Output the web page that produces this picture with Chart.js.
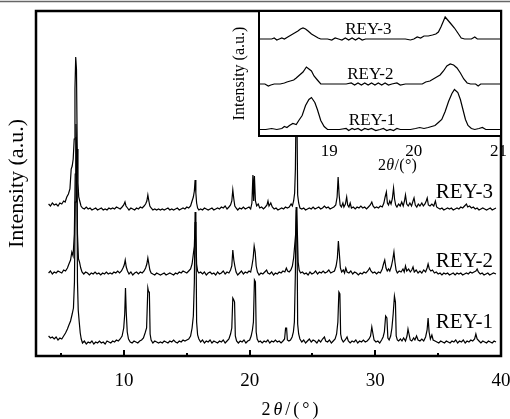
<!DOCTYPE html>
<html><head><meta charset="utf-8">
<script src="https://cdn.jsdelivr.net/npm/chart.js@4.4.0/dist/chart.umd.min.js"></script>
<style>
html,body{margin:0;padding:0;background:#fff;}
#wrap{position:relative;width:510px;height:419px;overflow:hidden;background:#fff;}
#main{position:absolute;left:0;top:0;}
#inset{position:absolute;left:225px;top:0;}
</style></head><body>
<div id="wrap"><canvas id="main" width="510" height="419"></canvas><canvas id="inset" width="285" height="180"></canvas></div>
<script>
// ---------------- DATA ----------------
const seriesNames = ['REY-1', 'REY-2', 'REY-3'];
const mainTickValues = [5, 10, 15, 20, 25, 30, 35, 40];
const mainTickLabels = ['', '10', '', '20', '', '30', '', '40'];
const insetTickValues = [19, 20, 21];
const insetTickLabels = ['19', '20', '21'];
const mainOffsets = [14, 82, 147];
const insetOffsets = [6.5, 52, 97];

// [2theta, intensity (a.u.)]
const rey1 = [[4.0,6],[4.15,4],[4.3,5],[4.45,3],[4.6,5],[4.75,2],[4.9,4],[5.05,3],[5.2,6],[5.35,9],[5.5,13],[5.62,17],[5.75,21],[5.88,28],[5.98,34],[6.06,60],[6.12,140],[6.18,205],[6.24,190],[6.3,60],[6.36,32],[6.44,20],[6.52,9],[6.6,3],[6.7,-1],[6.85,1],[7.0,-2],[7.15,0],[7.3,-1],[7.45,1],[7.6,-2],[7.75,0],[7.9,-1],[8.05,1],[8.2,-1],[8.35,0],[8.5,-2],[8.65,1],[8.8,0],[8.95,-1],[9.1,1],[9.25,0],[9.4,2],[9.55,1],[9.7,3],[9.85,6],[9.98,14],[10.06,28],[10.12,54],[10.18,30],[10.26,10],[10.36,3],[10.5,0],[10.65,-1],[10.8,1],[10.95,0],[11.1,-1],[11.25,1],[11.4,2],[11.55,4],[11.68,9],[11.8,14],[11.9,54],[11.96,50],[12.02,50],[12.08,8],[12.16,2],[12.3,-1],[12.45,1],[12.6,0],[12.75,-1],[12.9,0],[13.05,-1],[13.2,1],[13.35,0],[13.5,-1],[13.65,1],[13.8,0],[13.95,2],[14.1,0],[14.25,-1],[14.4,1],[14.55,0],[14.7,2],[14.85,1],[15.0,2],[15.15,3],[15.3,6],[15.42,14],[15.52,26],[15.6,60],[15.66,130],[15.72,125],[15.78,20],[15.86,7],[15.96,3],[16.1,0],[16.25,2],[16.4,-1],[16.55,1],[16.7,0],[16.85,2],[17.0,-1],[17.15,1],[17.3,0],[17.45,-1],[17.6,1],[17.75,0],[17.9,2],[18.05,-1],[18.2,1],[18.35,3],[18.48,8],[18.58,14],[18.66,44],[18.74,42],[18.8,40],[18.86,6],[18.96,1],[19.1,-1],[19.25,1],[19.4,0],[19.55,2],[19.7,-1],[19.85,1],[20.0,2],[20.12,6],[20.22,12],[20.3,20],[20.38,62],[20.46,60],[20.52,10],[20.6,3],[20.72,0],[20.85,1],[21.0,-1],[21.15,1],[21.3,0],[21.45,2],[21.6,-1],[21.75,1],[21.9,0],[22.05,2],[22.2,0],[22.35,1],[22.5,-1],[22.65,1],[22.78,3],[22.86,14],[22.94,14],[23.0,2],[23.12,1],[23.25,2],[23.38,5],[23.48,10],[23.56,20],[23.64,70],[23.7,135],[23.76,128],[23.82,18],[23.9,8],[24.0,3],[24.15,0],[24.3,2],[24.45,-1],[24.6,1],[24.75,3],[24.9,0],[25.05,2],[25.2,1],[25.35,-1],[25.5,2],[25.65,0],[25.8,3],[25.95,5],[26.05,1],[26.2,0],[26.35,2],[26.5,-1],[26.65,1],[26.8,3],[26.92,8],[27.02,20],[27.1,50],[27.18,48],[27.24,8],[27.32,3],[27.45,0],[27.6,2],[27.75,5],[27.85,1],[28.0,-1],[28.15,1],[28.3,0],[28.45,2],[28.6,-1],[28.75,1],[28.9,0],[29.05,2],[29.2,0],[29.35,1],[29.5,3],[29.62,6],[29.72,15],[29.8,9],[29.9,2],[30.05,0],[30.2,1],[30.35,-1],[30.5,2],[30.62,5],[30.72,10],[30.82,26],[30.92,24],[31.0,4],[31.1,2],[31.22,6],[31.32,14],[31.42,28],[31.52,46],[31.6,40],[31.66,6],[31.75,2],[31.85,1],[32.0,3],[32.12,1],[32.25,4],[32.4,1],[32.52,6],[32.6,13],[32.68,8],[32.78,2],[32.9,1],[33.05,4],[33.15,2],[33.28,6],[33.4,2],[33.55,1],[33.7,3],[33.85,1],[34.0,5],[34.12,12],[34.2,24],[34.28,10],[34.38,3],[34.5,7],[34.6,2],[34.75,1],[34.9,0],[35.05,-1],[35.2,1],[35.35,0],[35.5,-1],[35.65,1],[35.8,0],[35.95,-1],[36.1,1],[36.25,0],[36.4,2],[36.55,-1],[36.7,1],[36.85,0],[37.0,2],[37.15,-1],[37.3,1],[37.45,0],[37.6,2],[37.75,1],[37.9,3],[38.0,8],[38.1,3],[38.25,1],[38.4,-1],[38.55,1],[38.7,0],[38.85,-1],[39.0,1],[39.15,0],[39.3,-1],[39.45,1],[39.6,0]];

const rey2 = [[4.0,1],[4.15,3],[4.3,0],[4.45,2],[4.6,1],[4.75,3],[4.9,2],[5.05,1],[5.2,4],[5.35,3],[5.5,6],[5.62,10],[5.75,14],[5.85,22],[5.95,18],[6.05,40],[6.12,100],[6.18,150],[6.24,120],[6.3,40],[6.38,15],[6.46,12],[6.56,6],[6.66,2],[6.8,0],[6.95,2],[7.1,1],[7.25,-1],[7.4,1],[7.55,0],[7.7,2],[7.85,0],[8.0,1],[8.15,-1],[8.3,1],[8.45,0],[8.6,2],[8.75,0],[8.9,1],[9.05,0],[9.2,2],[9.35,1],[9.5,3],[9.65,1],[9.8,3],[9.92,6],[10.02,9],[10.1,14],[10.18,7],[10.28,3],[10.4,0],[10.55,2],[10.7,-1],[10.85,1],[11.0,2],[11.15,0],[11.3,2],[11.45,1],[11.6,3],[11.72,6],[11.82,10],[11.9,16],[11.98,10],[12.06,4],[12.16,1],[12.3,0],[12.45,-1],[12.6,1],[12.75,0],[12.9,-1],[13.05,0],[13.2,1],[13.35,-1],[13.5,0],[13.65,1],[13.8,0],[13.95,-1],[14.1,1],[14.25,0],[14.4,2],[14.55,1],[14.7,3],[14.85,2],[15.0,1],[15.15,3],[15.3,5],[15.42,10],[15.52,20],[15.6,28],[15.66,52],[15.72,40],[15.78,10],[15.86,3],[15.96,1],[16.1,2],[16.25,0],[16.4,2],[16.55,-1],[16.7,1],[16.85,2],[17.0,0],[17.15,1],[17.3,-1],[17.45,2],[17.6,0],[17.75,1],[17.9,3],[18.05,0],[18.2,2],[18.35,1],[18.48,4],[18.58,8],[18.66,24],[18.74,14],[18.82,8],[18.92,2],[19.05,-1],[19.2,1],[19.35,3],[19.5,0],[19.65,2],[19.8,1],[19.95,3],[20.08,2],[20.18,8],[20.28,16],[20.36,28],[20.44,22],[20.52,8],[20.62,2],[20.75,-1],[20.9,1],[21.05,0],[21.2,2],[21.35,4],[21.45,1],[21.6,0],[21.75,2],[21.9,-1],[22.05,1],[22.2,0],[22.35,2],[22.5,1],[22.65,3],[22.8,2],[22.92,6],[23.02,3],[23.15,2],[23.28,4],[23.4,8],[23.5,16],[23.58,28],[23.66,40],[23.72,64],[23.8,40],[23.86,12],[23.94,4],[24.05,1],[24.2,2],[24.35,0],[24.5,1],[24.65,-1],[24.8,2],[24.95,0],[25.1,1],[25.25,3],[25.4,0],[25.55,2],[25.7,1],[25.85,3],[26.0,1],[26.15,2],[26.3,4],[26.45,1],[26.6,2],[26.75,3],[26.88,8],[26.98,16],[27.06,33],[27.14,20],[27.22,6],[27.32,2],[27.45,4],[27.55,1],[27.65,6],[27.75,2],[27.9,1],[28.05,3],[28.2,0],[28.35,2],[28.5,1],[28.65,-1],[28.8,1],[28.95,0],[29.1,2],[29.25,1],[29.4,3],[29.55,6],[29.65,3],[29.8,1],[29.95,2],[30.1,0],[30.25,2],[30.4,1],[30.55,5],[30.65,10],[30.75,14],[30.85,6],[30.95,3],[31.05,5],[31.15,3],[31.28,8],[31.38,14],[31.48,22],[31.56,12],[31.65,4],[31.75,1],[31.9,3],[32.05,2],[32.2,5],[32.3,2],[32.4,8],[32.5,3],[32.65,5],[32.78,2],[32.9,4],[33.0,7],[33.1,2],[33.25,4],[33.4,1],[33.55,3],[33.7,1],[33.85,4],[34.0,2],[34.12,6],[34.2,10],[34.3,5],[34.42,3],[34.55,4],[34.7,1],[34.85,2],[35.0,0],[35.15,1],[35.3,-1],[35.45,1],[35.6,0],[35.75,1],[35.9,-1],[36.05,0],[36.2,1],[36.35,-1],[36.5,1],[36.65,0],[36.8,1],[36.95,-1],[37.1,0],[37.25,1],[37.4,0],[37.55,2],[37.7,1],[37.85,2],[38.0,3],[38.1,5],[38.2,2],[38.35,0],[38.5,1],[38.65,-1],[38.8,0],[38.95,1],[39.1,-1],[39.25,0],[39.4,1],[39.6,0]];

const rey3 = [[4.0,5],[4.15,3],[4.3,6],[4.45,4],[4.6,5],[4.75,3],[4.9,6],[5.05,5],[5.2,8],[5.32,7],[5.45,12],[5.58,15],[5.7,20],[5.8,40],[5.88,43],[5.96,50],[6.04,70],[6.1,120],[6.16,152],[6.22,140],[6.28,60],[6.34,26],[6.4,12],[6.48,8],[6.58,3],[6.7,1],[6.85,0],[7.0,2],[7.15,0],[7.3,1],[7.45,-1],[7.6,0],[7.75,1],[7.9,-1],[8.05,0],[8.2,1],[8.35,-1],[8.5,0],[8.65,-1],[8.8,1],[8.95,0],[9.1,1],[9.25,0],[9.4,2],[9.55,1],[9.7,0],[9.85,2],[9.98,4],[10.08,7],[10.16,3],[10.28,1],[10.4,-1],[10.55,1],[10.7,0],[10.85,-1],[11.0,1],[11.15,0],[11.3,2],[11.45,1],[11.6,3],[11.72,5],[11.82,8],[11.9,14],[11.98,8],[12.06,3],[12.16,1],[12.3,-1],[12.45,0],[12.6,-1],[12.75,0],[12.9,-1],[13.05,0],[13.2,-1],[13.35,0],[13.5,1],[13.65,-1],[13.8,0],[13.95,-1],[14.1,0],[14.25,1],[14.4,-1],[14.55,0],[14.7,1],[14.85,0],[15.0,2],[15.15,1],[15.3,3],[15.42,8],[15.52,12],[15.6,18],[15.66,29],[15.72,16],[15.78,6],[15.86,1],[15.96,-1],[16.1,0],[16.25,-1],[16.4,1],[16.55,0],[16.7,-1],[16.85,0],[17.0,1],[17.15,-1],[17.3,0],[17.45,1],[17.6,0],[17.75,2],[17.9,1],[18.05,3],[18.2,0],[18.35,2],[18.48,4],[18.58,8],[18.66,19],[18.74,10],[18.82,3],[18.92,1],[19.05,-1],[19.2,1],[19.35,0],[19.5,2],[19.65,0],[19.8,1],[19.95,2],[20.08,0],[20.18,6],[20.26,34],[20.32,8],[20.38,33],[20.46,8],[20.56,3],[20.68,5],[20.8,1],[20.95,2],[21.1,0],[21.25,2],[21.38,4],[21.46,8],[21.54,3],[21.68,6],[21.8,2],[21.95,0],[22.1,1],[22.25,-1],[22.4,0],[22.55,1],[22.7,0],[22.85,2],[23.0,1],[23.15,2],[23.3,5],[23.4,3],[23.5,8],[23.58,16],[23.64,40],[23.7,110],[23.76,100],[23.82,14],[23.9,6],[24.0,1],[24.15,0],[24.3,1],[24.45,-1],[24.6,0],[24.75,1],[24.9,0],[25.05,2],[25.2,0],[25.35,1],[25.5,2],[25.65,0],[25.8,1],[25.95,3],[26.1,1],[26.25,2],[26.4,0],[26.55,1],[26.7,2],[26.85,4],[26.96,12],[27.04,32],[27.12,14],[27.2,4],[27.3,2],[27.42,6],[27.5,2],[27.62,5],[27.72,12],[27.8,4],[27.9,2],[28.0,6],[28.1,1],[28.25,2],[28.4,0],[28.55,2],[28.7,1],[28.85,3],[29.0,1],[29.15,2],[29.3,0],[29.45,2],[29.6,4],[29.72,7],[29.82,3],[29.95,1],[30.1,2],[30.25,1],[30.4,3],[30.55,2],[30.68,6],[30.78,12],[30.88,17],[30.96,6],[31.05,4],[31.15,8],[31.25,5],[31.35,10],[31.45,21],[31.53,10],[31.62,4],[31.72,2],[31.85,5],[31.98,3],[32.1,7],[32.22,3],[32.32,8],[32.4,14],[32.5,5],[32.62,3],[32.75,6],[32.88,3],[33.0,8],[33.08,11],[33.18,4],[33.3,2],[33.42,5],[33.55,3],[33.7,6],[33.82,3],[33.95,5],[34.05,8],[34.13,11],[34.22,4],[34.35,3],[34.5,5],[34.65,3],[34.78,8],[34.88,2],[35.0,1],[35.15,0],[35.3,1],[35.45,-1],[35.6,0],[35.75,1],[35.9,0],[36.05,1],[36.2,-1],[36.35,0],[36.5,1],[36.65,0],[36.8,2],[36.95,1],[37.1,3],[37.25,5],[37.35,2],[37.5,3],[37.65,1],[37.8,2],[37.95,0],[38.1,1],[38.25,-1],[38.4,0],[38.55,1],[38.7,0],[38.85,-1],[39.0,0],[39.15,1],[39.3,-1],[39.45,0],[39.6,1]];

// inset (zoom 18.2–21°)
const insetRey1 = [[18.17,0],[18.25,0],[18.32,1],[18.38,0],[18.44,1],[18.47,3],[18.5,2],[18.53,4],[18.57,6],[18.61,5],[18.64,9],[18.68,14],[18.72,24],[18.76,30],[18.79,32],[18.83,27],[18.86,20],[18.9,9],[18.94,3],[18.98,0],[19.05,0],[19.12,0],[19.2,1],[19.23,-1],[19.27,1],[19.3,0],[19.34,1],[19.38,-1],[19.42,1],[19.46,0],[19.5,1],[19.55,-1],[19.6,0],[19.64,1],[19.68,-1],[19.72,0],[19.76,-1],[19.8,1],[19.84,0],[19.9,0],[19.96,0],[20.02,1],[20.07,2],[20.12,1],[20.17,2],[20.21,3],[20.25,4],[20.29,7],[20.33,10],[20.37,18],[20.41,28],[20.45,36],[20.48,40],[20.52,37],[20.55,30],[20.58,20],[20.61,10],[20.64,4],[20.68,1],[20.72,0],[20.77,1],[20.81,2],[20.85,0],[20.92,0],[21.03,0]];
const insetRey2 = [[18.17,0],[18.24,0],[18.28,-2],[18.31,-1],[18.35,0],[18.42,0],[18.47,1],[18.5,2],[18.54,3],[18.58,4],[18.61,6],[18.65,9],[18.69,12],[18.73,17],[18.76,15],[18.79,13],[18.82,8],[18.86,4],[18.9,0],[19.0,0],[19.1,0],[19.2,0],[19.26,1],[19.3,-1],[19.34,1],[19.38,-1],[19.42,1],[19.46,-1],[19.5,1],[19.54,-1],[19.58,1],[19.62,-1],[19.66,1],[19.7,-1],[19.74,0],[19.8,1],[19.84,-1],[19.9,0],[20.0,0],[20.1,0],[20.14,2],[20.19,3],[20.23,5],[20.27,7],[20.31,9],[20.35,13],[20.39,18],[20.43,20],[20.47,19],[20.51,16],[20.55,11],[20.59,5],[20.63,1],[20.67,0],[20.73,0],[20.76,-2],[20.79,0],[20.9,0],[21.03,0]];
const insetRey3 = [[18.17,0],[18.25,0],[18.32,0],[18.35,1],[18.38,-1],[18.41,0],[18.44,1],[18.47,0],[18.51,2],[18.55,4],[18.59,6],[18.63,8],[18.66,10],[18.69,11],[18.72,10],[18.75,8],[18.79,5],[18.83,3],[18.87,1],[18.9,0],[18.98,0],[19.03,-1],[19.07,1],[19.11,0],[19.15,-1],[19.19,1],[19.23,-1],[19.27,1],[19.31,-1],[19.35,1],[19.39,-1],[19.43,0],[19.5,0],[19.7,0],[19.9,0],[19.96,-1],[20.0,0],[20.04,2],[20.08,1],[20.12,3],[20.17,3],[20.22,4],[20.26,5],[20.29,7],[20.32,12],[20.35,18],[20.37,22],[20.4,19],[20.44,15],[20.48,11],[20.52,6],[20.56,1],[20.6,0],[20.68,0],[20.72,2],[20.75,0],[20.85,0],[21.03,0]];

// ---------------- STYLE / BUILD ----------------
const FONT = "'Liberation Serif','Times New Roman',serif";
const mainSeries = [rey1, rey2, rey3];
const insetSeries = [insetRey1, insetRey2, insetRey3];

function makeDatasets(list, offsets) {
  return list.map((arr, i) => ({
    label: seriesNames[i],
    data: arr.map(p => ({x: p[0], y: p[1] + offsets[i]})),
    borderColor: '#000', borderWidth: 1.2, pointRadius: 0, tension: 0, fill: false
  }));
}

function drawTwoTheta(ctx, cx, baseY, size, gap) {
  const parts = [['2',''],['\u03B8','italic '],['/',''],['(',''],['\u00B0',''],[')','']];
  const w = parts.map(p => { ctx.font = p[1] + size + 'px ' + FONT; return ctx.measureText(p[0]).width; });
  const total = w.reduce((a,b)=>a+b,0) + gap*(parts.length-1);
  let x = cx - total/2;
  ctx.textAlign = 'left'; ctx.textBaseline = 'alphabetic'; ctx.fillStyle = '#000';
  parts.forEach((p,i) => { ctx.font = p[1] + size + 'px ' + FONT; ctx.fillText(p[0], x, baseY); x += w[i] + gap; });
}

const mainDecor = {
  id: 'mainDecor',
  beforeDraw(chart) {
    const ctx = chart.ctx;
    ctx.save();
    ctx.fillStyle = '#fff'; ctx.fillRect(0, 0, chart.width, chart.height);
    ctx.strokeStyle = '#666'; ctx.lineWidth = 1.5;
    ctx.beginPath(); ctx.moveTo(0, 1.5); ctx.lineTo(chart.width, 1.5); ctx.stroke();
    ctx.restore();
  },
  afterDraw(chart) {
    const ctx = chart.ctx, ca = chart.chartArea, xs = chart.scales.x;
    ctx.save();
    ctx.strokeStyle = '#000'; ctx.lineWidth = 2.5;
    ctx.strokeRect(ca.left, ca.top, ca.right - ca.left, ca.bottom - ca.top);
    ctx.lineWidth = 2;
    mainTickValues.forEach((v, i) => {
      if (v <= xs.min || v >= xs.max) return;
      const px = Math.round(xs.getPixelForValue(v));
      const len = mainTickLabels[i] ? 6 : 3;
      ctx.beginPath(); ctx.moveTo(px, ca.bottom); ctx.lineTo(px, ca.bottom - len); ctx.stroke();
    });
    ctx.fillStyle = '#000'; ctx.font = '21px ' + FONT; ctx.textAlign = 'right'; ctx.textBaseline = 'alphabetic';
    const labelY = [328, 266.5, 198];
    seriesNames.forEach((n, i) => ctx.fillText(n, 493, labelY[i]));
    drawTwoTheta(ctx, 290, 415, 18, 3);
    ctx.restore();
  }
};

const insetDecor = {
  id: 'insetDecor',
  beforeDatasetsDraw(chart) {
    const ctx = chart.ctx, ca = chart.chartArea;
    ctx.save(); ctx.fillStyle = '#fff';
    ctx.fillRect(ca.left, ca.top, ca.right - ca.left, ca.bottom - ca.top);
    ctx.restore();
  },
  afterDraw(chart) {
    const ctx = chart.ctx, ca = chart.chartArea;
    ctx.save();
    ctx.strokeStyle = '#000'; ctx.lineWidth = 2;
    ctx.strokeRect(ca.left, ca.top, ca.right - ca.left, ca.bottom - ca.top);
    ctx.fillStyle = '#000'; ctx.font = '17px ' + FONT; ctx.textAlign = 'center'; ctx.textBaseline = 'alphabetic';
    const lx = [147, 145.3, 143.3], ly = [124.5, 78.8, 33.8];
    seriesNames.forEach((n, i) => ctx.fillText(n, lx[i], ly[i]));
    drawTwoTheta(ctx, 172.5, 170, 16, 0.3);
    ctx.restore();
  }
};

new Chart(document.getElementById('main'), {
  type: 'line',
  data: { datasets: makeDatasets(mainSeries, mainOffsets) },
  options: {
    responsive: false, animation: false, devicePixelRatio: 1,
    layout: { autoPadding: false, padding: { left: 0, right: 9, top: 11, bottom: 0 } },
    plugins: { legend: { display: false }, tooltip: { enabled: false } },
    scales: {
      x: {
        type: 'linear', min: 3, max: 40,
        grid: { display: false, drawTicks: false }, border: { display: false },
        afterBuildTicks: s => { s.ticks = mainTickValues.map(v => ({ value: v })); },
        ticks: { autoSkip: false, maxRotation: 0, padding: 14, color: '#000',
                 font: { family: FONT, size: 19 }, callback: (v, i) => mainTickLabels[i] },
        afterFit: s => { s.height = 63; s.paddingLeft = 0; s.paddingRight = 0; }
      },
      y: {
        min: 0, max: 345,
        grid: { display: false, drawTicks: false }, border: { display: false },
        ticks: { display: false },
        title: { display: true, text: 'Intensity (a.u.)', color: '#000',
                 font: { family: FONT, size: 22 }, padding: { top: 4, bottom: 0 } },
        afterFit: s => { s.width = 36; s.paddingTop = 0; s.paddingBottom = 0; }
      }
    }
  },
  plugins: [mainDecor]
});

new Chart(document.getElementById('inset'), {
  type: 'line',
  data: { datasets: makeDatasets(insetSeries, insetOffsets) },
  options: {
    responsive: false, animation: false, devicePixelRatio: 1,
    layout: { autoPadding: false, padding: { left: 0, right: 9, top: 11, bottom: 0 } },
    plugins: { legend: { display: false }, tooltip: { enabled: false } },
    scales: {
      x: {
        type: 'linear', min: 18.17, max: 21.03,
        grid: { display: false, drawTicks: false }, border: { display: false },
        afterBuildTicks: s => { s.ticks = insetTickValues.map(v => ({ value: v })); },
        ticks: { autoSkip: false, maxRotation: 0, padding: 5, color: '#000',
                 font: { family: FONT, size: 17 }, callback: (v, i) => insetTickLabels[i] },
        afterFit: s => { s.height = 44; s.paddingLeft = 0; s.paddingRight = 0; }
      },
      y: {
        min: 0, max: 125,
        grid: { display: false, drawTicks: false }, border: { display: false },
        ticks: { display: false },
        title: { display: true, text: 'Intensity (a.u.)', color: '#000',
                 font: { family: FONT, size: 16 }, padding: { top: 5, bottom: 0 } },
        afterFit: s => { s.width = 34; s.paddingTop = 0; s.paddingBottom = 0; }
      }
    }
  },
  plugins: [insetDecor]
});
</script>
</body></html>
